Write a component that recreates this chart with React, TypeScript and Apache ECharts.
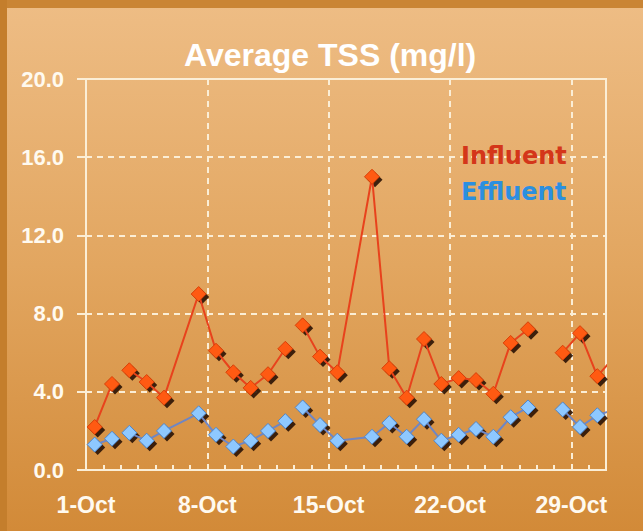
import React, { useEffect, useRef } from "react";
import * as echarts from "echarts";

// ---- data ----
const titleText = "Average TSS (mg/l)";
const tickLabels = ["1-Oct", "8-Oct", "15-Oct", "22-Oct", "29-Oct"];
const days = [1, 2, 3, 4, 5, 7, 8, 9, 10, 11, 12, 13, 14, 15, 17, 18, 19, 20, 21, 22, 23, 24, 25, 26, 28, 29, 30, 31];
const influent = [2.2, 4.4, 5.1, 4.5, 3.7, 9.0, 6.1, 5.0, 4.2, 4.9, 6.2, 7.4, 5.8, 5.0, 15.0, 5.2, 3.7, 6.7, 4.4, 4.7, 4.6, 3.9, 6.5, 7.2, 6.0, 7.0, 4.8, 5.8];
const effluent = [1.3, 1.6, 1.9, 1.5, 2.0, 2.9, 1.8, 1.2, 1.5, 2.0, 2.5, 3.2, 2.3, 1.5, 1.7, 2.4, 1.7, 2.6, 1.5, 1.8, 2.1, 1.7, 2.7, 3.2, 3.1, 2.2, 2.8, 3.1];
const lineBreaksBefore = [3, 13, 28];
const hiddenMarkerDays = [31];

const CREAM = "#fbeed6";
const LABEL = "#fffaf0";
const FONT = "'Liberation Sans', Arial, Helvetica, sans-serif";

function buildData(values: number[]) {
  const out: any[] = [];
  days.forEach((d, i) => {
    if (lineBreaksBefore.includes(d)) out.push({ value: [d - 1, "-"] });
    const item: any = { value: [d - 0.5, values[i]] };
    if (hiddenMarkerDays.includes(d)) item.symbol = "none";
    out.push(item);
  });
  return out;
}

function shadowSeries(values: number[], z: number) {
  return {
    type: "line",
    xAxisIndex: 0,
    data: buildData(values),
    clip: false,
    symbol: "diamond",
    symbolSize: 15,
    symbolOffset: [3, 3],
    showSymbol: true,
    lineStyle: { width: 0, opacity: 0 },
    itemStyle: { color: "#2a1204", opacity: 0.9 },
    emphasis: { disabled: true },
    silent: true,
    z,
  };
}

export default function App() {
  const ref = useRef<HTMLDivElement>(null);
  useEffect(() => {
    if (!ref.current) return;
    const chart = echarts.init(ref.current, null, { renderer: "svg" });
    chart.setOption({
      animation: false,
      backgroundColor: new echarts.graphic.LinearGradient(0, 0, 0, 1, [
        { offset: 0, color: "#eebd85" },
        { offset: 0.5, color: "#e2a660" },
        { offset: 1, color: "#d28a38" },
      ]),
      graphic: [
        { type: "rect", left: 0, top: 0, shape: { width: 643, height: 8 }, style: { fill: "#ca8534" }, silent: true },
        { type: "rect", left: 0, top: 0, shape: { width: 7, height: 531 }, style: { fill: "#c47e2c" }, silent: true },
      ],
      title: {
        text: titleText,
        left: 179,
        top: 34,
        textStyle: { color: "#ffffff", fontSize: 32, fontWeight: "bold", fontFamily: FONT },
      },
      legend: {
        orient: "vertical",
        left: 451,
        top: 139,
        icon: "none",
        itemWidth: 0,
        itemHeight: 24,
        itemGap: 12,
        textStyle: { fontSize: 24, fontWeight: "bold", fontFamily: "'DejaVu Sans', Verdana, sans-serif" },
        data: [
          { name: "Influent", textStyle: { color: "#d4361a" } },
          { name: "Effluent", textStyle: { color: "#2b8fe0" } },
        ],
      },
      grid: {
        left: 86,
        right: 37,
        top: 79,
        bottom: 61,
        show: true,
        borderColor: CREAM,
        borderWidth: 2,
        backgroundColor: "transparent",
      },
      xAxis: [
        {
          type: "value",
          min: 0,
          max: 30,
          interval: 1,
          axisLine: { show: true, lineStyle: { color: CREAM, width: 2 } },
          axisTick: { show: true, inside: true, length: 5, lineStyle: { color: CREAM, width: 2 } },
          axisLabel: { show: false },
          splitLine: { show: false },
        },
        {
          type: "value",
          position: "bottom",
          min: 0,
          max: 30,
          interval: 7,
          axisLine: { show: false },
          axisTick: { show: false },
          axisLabel: {
            show: true,
            margin: 23,
            color: LABEL,
            fontSize: 23,
            fontWeight: "bold",
            fontFamily: FONT,
            formatter: (v: number) => (v % 7 === 0 && v / 7 < tickLabels.length ? tickLabels[v / 7] : ""),
          },
          splitLine: { show: true, lineStyle: { color: CREAM, width: 2, type: [6, 5] } },
        },
      ],
      yAxis: {
        type: "value",
        min: 0,
        max: 20,
        interval: 4,
        axisLine: { show: true, lineStyle: { color: CREAM, width: 2 } },
        axisTick: { show: true, inside: false, length: 9, lineStyle: { color: CREAM, width: 2 } },
        axisLabel: {
          margin: 22,
          color: LABEL,
          fontSize: 22,
          fontWeight: "bold",
          fontFamily: FONT,
          formatter: (v: number) => v.toFixed(1),
        },
        splitLine: { show: true, lineStyle: { color: CREAM, width: 2, type: [6, 5] } },
      },
      series: [
        shadowSeries(effluent, 1),
        {
          name: "Effluent",
          type: "line",
          xAxisIndex: 0,
          data: buildData(effluent),
          clip: false,
          connectNulls: false,
          symbol: "diamond",
          symbolSize: 15,
          lineStyle: { color: "#6f86c4", width: 2 },
          itemStyle: { color: "#8ec8ff", borderColor: "#4f86cc", borderWidth: 1 },
          emphasis: { disabled: true },
          z: 2,
        },
        shadowSeries(influent, 3),
        {
          name: "Influent",
          type: "line",
          xAxisIndex: 0,
          data: buildData(influent),
          clip: false,
          connectNulls: false,
          symbol: "diamond",
          symbolSize: 15,
          lineStyle: { color: "#e8421c", width: 2 },
          itemStyle: { color: "#ff5a12", borderColor: "#d84008", borderWidth: 1 },
          emphasis: { disabled: true },
          z: 4,
        },
      ],
    });
    return () => chart.dispose();
  }, []);
  return (
    <div
      ref={ref}
      style={{ position: "fixed", left: 0, top: 0, width: 643, height: 531 }}
    />
  );
}
